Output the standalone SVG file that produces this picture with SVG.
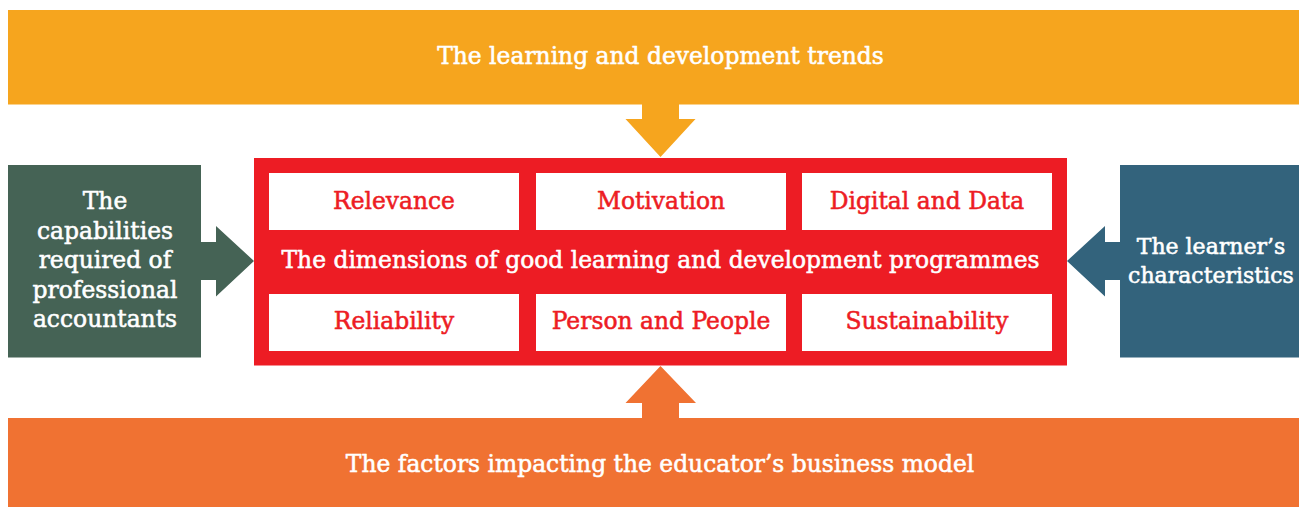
<svg xmlns="http://www.w3.org/2000/svg" width="1299" height="507" viewBox="0 0 1299 507">
<style>
text{font-family:"DejaVu Serif","Liberation Serif",serif;font-size:23.4px;text-anchor:middle;stroke-width:0.55px;stroke-linejoin:round}
.w{fill:#ffffff;stroke:#ffffff}
.r{fill:#ED1C24;stroke:#ED1C24}
.s{font-size:22px}
.cell{fill:#ffffff}
</style>
<rect width="1299" height="507" fill="#ffffff"/>
<g id="connectors">
<polygon points="642,104 679,104 679,119 695.5,119 660.5,157 625.5,119 642,119" fill="#F6A51E"/>
<polygon points="642,418 679,418 679,403 696,403 660.5,366 625.5,403 642,403" fill="#F07232"/>
<polygon points="201,242 216,242 216,226 254,261 216,296.5 216,280 201,280" fill="#456355"/>
<polygon points="1120,242 1105,242 1105,226 1067,261 1105,296.5 1105,280 1120,280" fill="#33637C"/>
</g>
<g id="trends">
<rect x="8" y="10" width="1291" height="94.5" fill="#F6A51E"/>
<text class="w" x="660.5" y="63.5">The learning and development trends</text>
</g>
<g id="factors">
<rect x="8" y="418" width="1291" height="89" fill="#F07232"/>
<text class="w" x="660" y="471.5">The factors impacting the educator’s business model</text>
</g>
<g id="capabilities">
<rect x="8" y="165" width="193" height="192.5" fill="#456355"/>
<text class="w" x="105" y="209">The</text>
<text class="w" x="105" y="238.5">capabilities</text>
<text class="w" x="105" y="268">required of</text>
<text class="w" x="105" y="297.5">professional</text>
<text class="w" x="105" y="327">accountants</text>
</g>
<g id="learner">
<rect x="1120" y="165" width="179" height="192.5" fill="#33637C"/>
<text class="w s" x="1211" y="253.5">The learner’s</text>
<text class="w s" x="1211" y="283">characteristics</text>
</g>
<g id="dimensions">
<rect x="254" y="158" width="813" height="207.5" fill="#ED1C24"/>
<text class="w" x="660.5" y="267.5">The dimensions of good learning and development programmes</text>
</g>
<g id="relevance">
<rect class="cell" x="269" y="173" width="250" height="57"/>
<text class="r" x="394" y="208.5">Relevance</text>
</g>
<g id="motivation">
<rect class="cell" x="536" y="173" width="250" height="57"/>
<text class="r" x="661" y="208.5">Motivation</text>
</g>
<g id="digital">
<rect class="cell" x="802" y="173" width="250" height="57"/>
<text class="r" x="927" y="208.5">Digital and Data</text>
</g>
<g id="reliability">
<rect class="cell" x="269" y="294" width="250" height="57"/>
<text class="r" x="394" y="328.5">Reliability</text>
</g>
<g id="person">
<rect class="cell" x="536" y="294" width="250" height="57"/>
<text class="r" x="661" y="328.5">Person and People</text>
</g>
<g id="sustainability">
<rect class="cell" x="802" y="294" width="250" height="57"/>
<text class="r" x="927" y="328.5">Sustainability</text>
</g>
</svg>
